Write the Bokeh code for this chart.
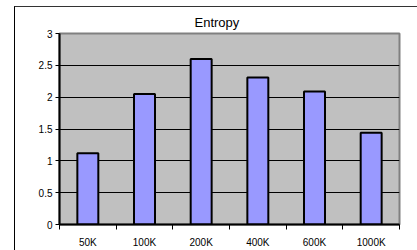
from bokeh.plotting import figure
from bokeh.models import FixedTicker, Range1d, ColumnDataSource, InlineStyleSheet
from bokeh.embed import file_html
from bokeh.resources import INLINE

categories = ["50K", "100K", "200K", "400K", "600K", "1000K"]
entropy = [1.12, 2.05, 2.60, 2.31, 2.09, 1.44]
y_ticks = [0, 0.5, 1, 1.5, 2, 2.5, 3]
y_tick_labels = ["0", "0.5", "1", "1.5", "2", "2.5", "3"]
title_text = "Entropy"

FONT = "Liberation Sans"

pos = [i + 0.5 for i in range(len(categories))]
src = ColumnDataSource(dict(x=pos, top=entropy))

outer_border = InlineStyleSheet(css="""
:host::after {
  content: '';
  position: absolute;
  left: 14px; top: 6px; right: 0px; bottom: 0px;
  border-left: 1.5px solid #000000;
  border-top: 1.5px solid #333333;
  pointer-events: none;
}
""")

p = figure(width=417, height=250, output_backend="svg", toolbar_location=None,
           title=title_text,
           x_range=Range1d(0, len(categories)), y_range=Range1d(0, 3),
           min_border_left=59, min_border_right=18, min_border_top=33,
           min_border_bottom=26, stylesheets=[outer_border])

p.title.align = "left"
p.title.offset = 135
p.title.text_font = FONT
p.title.text_font_size = "13px"
p.title.text_font_style = "normal"
p.title.text_color = "black"
p.title.standoff = 8

p.background_fill_color = "#C0C0C0"
p.border_fill_color = "white"
p.outline_line_color = "#808080"
p.outline_line_width = 2

# y axis
p.yaxis.ticker = FixedTicker(ticks=y_ticks)
p.yaxis.major_label_overrides = {t: l for t, l in zip(y_ticks, y_tick_labels)}
p.yaxis.major_label_text_font = FONT
p.yaxis.major_label_text_font_size = "10px"
p.yaxis.major_label_text_color = "black"
p.yaxis.major_label_standoff = 3
p.yaxis.major_tick_out = 4
p.yaxis.major_tick_in = 0
p.yaxis.major_tick_line_color = "black"
p.yaxis.axis_line_color = "black"
p.yaxis.axis_line_width = 2

# x axis: labels at category centres, ticks at category boundaries
p.xaxis.ticker = FixedTicker(ticks=pos, minor_ticks=list(range(len(categories) + 1)))
p.xaxis.major_label_overrides = {x: c for x, c in zip(pos, categories)}
p.xaxis.major_label_text_font = FONT
p.xaxis.major_label_text_font_size = "10px"
p.xaxis.major_label_text_color = "black"
p.xaxis.major_label_standoff = 7
p.xaxis.major_tick_line_color = None
p.xaxis.major_tick_out = 0
p.xaxis.major_tick_in = 0
p.xaxis.minor_tick_out = 5
p.xaxis.minor_tick_in = 0
p.xaxis.minor_tick_line_color = "black"
p.xaxis.axis_line_color = "black"
p.xaxis.axis_line_width = 2

p.xgrid.visible = False
p.ygrid.ticker = FixedTicker(ticks=y_ticks[1:-1])
p.ygrid.grid_line_color = "black"
p.ygrid.grid_line_width = 1

p.vbar(x="x", top="top", width=0.37, source=src,
       fill_color="#9999FF", line_color="black", line_width=2)

open("out.html", "w").write(file_html(p, INLINE))
